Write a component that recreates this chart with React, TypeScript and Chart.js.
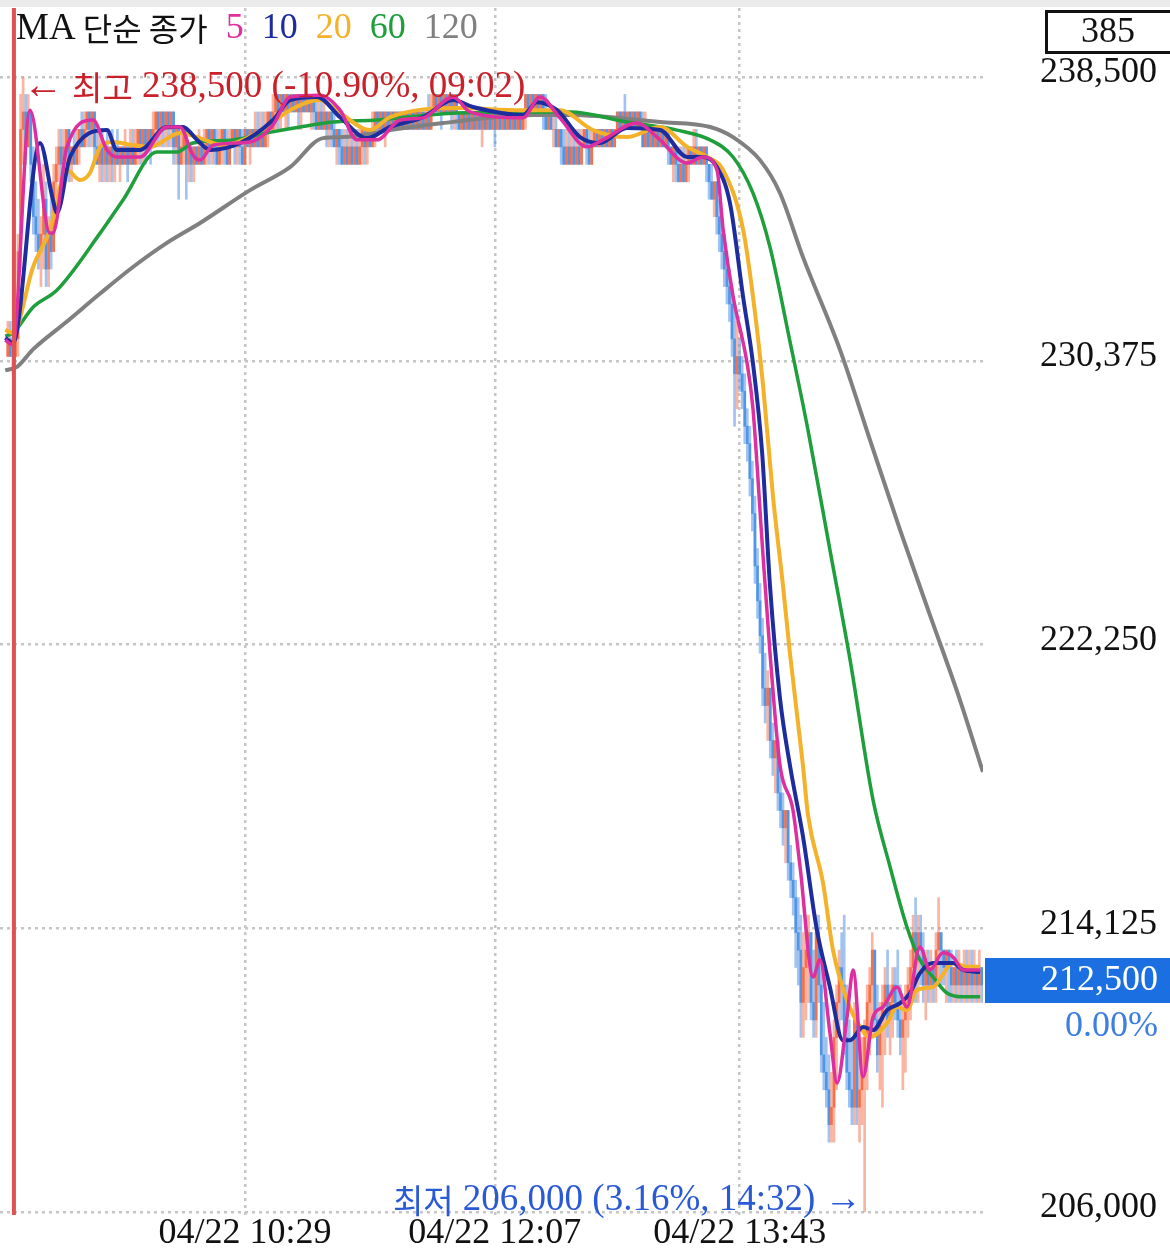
import { useEffect, useRef } from "react";
import { Chart, registerables } from "chart.js";

Chart.register(...registerables);

const CANVAS_W = 1170;
const CANVAS_H = 1254;

// ---- data (prices in thousands of won, minutes after 09:00) ----
const barStartMinute = -4;
const firstOpen = 230.5;

const barHigh = [
  231.5, 231.5, 231.0, 231.5,
  234.0, 238.0, 238.5, 238.0, 238.0, 237.5, 236.5, 235.5, 235.0, 234.5,
  236.0, 235.5, 234.5, 235.0, 236.0, 236.5, 237.0, 237.0, 237.0, 237.0,
  237.0, 236.5, 237.0, 237.0, 237.0, 237.5, 237.5, 237.5, 237.5, 237.5,
  237.5, 237.0, 237.0, 237.0, 236.5, 237.0, 236.5, 237.0, 236.5, 237.0,
  236.5, 236.5, 237.0, 236.5, 237.0, 237.0, 237.0, 237.0, 237.0, 237.0,
  237.0, 237.0, 237.0, 237.5, 237.5, 237.5, 237.5, 237.5, 237.5, 237.5,
  237.5, 237.5, 237.0, 237.0, 237.0, 237.0, 237.0, 236.5, 236.5, 236.5,
  236.5, 237.0, 236.5, 237.0, 237.0, 237.0, 237.0, 237.0, 237.0, 237.0,
  237.0, 237.0, 237.0, 237.0, 237.0, 237.0, 237.0, 237.0, 237.0, 237.0,
  237.0, 237.0, 237.0, 237.5, 237.5, 237.5, 237.5, 237.5, 237.5, 237.5,
  238.0, 238.0, 238.0, 238.0, 238.0, 238.0, 238.0, 238.0, 238.0, 238.0,
  238.0, 238.0, 238.0, 238.0, 238.0, 238.0, 238.0, 238.0, 238.0, 238.0,
  238.0, 237.5, 237.5, 237.5, 237.5, 237.0, 237.0, 237.0, 237.0, 237.0,
  237.0, 237.0, 237.0, 237.0, 237.0, 237.0, 237.0, 237.0, 237.0, 237.5,
  237.5, 237.5, 237.5, 237.5, 237.5, 237.5, 237.5, 237.5, 237.5, 237.5,
  237.5, 237.5, 237.5, 237.5, 237.5, 237.5, 237.5, 237.5, 237.5, 237.5,
  237.5, 238.0, 238.0, 238.0, 238.0, 238.0, 238.0, 238.0, 238.0, 238.0,
  238.0, 238.0, 238.0, 237.5, 237.5, 237.5, 237.5, 237.5, 237.5, 237.5,
  237.5, 237.5, 237.5, 237.5, 237.5, 237.5, 237.5, 237.5, 237.5, 237.5,
  237.5, 237.5, 237.5, 237.5, 237.5, 237.5, 237.5, 237.5, 237.5, 238.0,
  238.0, 238.0, 238.0, 238.0, 238.0, 238.0, 238.0, 238.0, 237.5, 237.5,
  237.5, 237.5, 237.0, 237.0, 237.0, 237.0, 237.0, 237.0, 237.0, 237.0,
  237.0, 237.0, 237.0, 237.0, 237.0, 237.0, 237.0, 237.0, 237.0, 237.0,
  237.0, 237.0, 237.0, 237.0, 237.0, 237.5, 237.5, 237.5, 238.0, 237.5,
  237.5, 237.5, 237.5, 237.5, 237.5, 237.5, 237.5, 237.0, 237.0, 237.0,
  237.0, 237.0, 237.0, 237.0, 237.0, 237.0, 236.5, 236.5, 236.5, 236.5,
  236.5, 236.5, 236.5, 236.5, 236.5, 237.0, 237.0, 236.5, 236.5, 236.5,
  236.5, 236.0, 236.0, 235.5, 235.5, 235.0, 234.5, 234.0, 233.5, 233.0,
  232.5, 232.0, 231.5, 231.0, 230.5, 230.0, 229.0, 228.5, 227.5, 226.5,
  225.0, 224.0, 223.0, 222.0, 221.5, 221.0, 220.0, 219.5, 219.5, 218.5,
  218.0, 217.5, 217.5, 216.5, 216.0, 215.5, 215.0, 214.5, 214.0, 214.5,
  214.5, 214.0, 213.5, 214.5, 214.5, 213.5, 212.0, 211.0, 210.5, 210.0,
  211.5, 212.5, 213.5, 214.0, 214.5, 212.5, 211.5, 211.0, 212.0, 212.0,
  210.5, 211.0, 211.5, 212.5, 213.0, 214.0, 213.5, 212.5, 212.0, 212.5,
  213.0, 213.5, 212.5, 213.0, 213.0, 213.5, 212.5, 212.0, 212.5, 213.0,
  213.5, 214.5, 215.0, 214.5, 214.5, 214.0, 213.5, 213.5, 213.5, 213.0,
  214.0, 215.0, 214.0, 213.5, 213.5, 213.5, 213.5, 213.0, 213.5, 213.5,
  213.0, 213.5, 213.5, 213.5, 213.5, 213.5, 213.0, 213.5, 213.0,
];

const barLow = [
  230.5, 230.5, 230.0, 230.5,
  230.5, 233.0, 236.0, 236.0, 236.5, 235.5, 234.0, 233.5, 233.0, 232.5,
  233.0, 232.5, 232.5, 233.0, 233.5, 235.0, 235.5, 235.5, 235.5, 236.0,
  235.5, 235.5, 236.0, 236.0, 236.0, 236.5, 236.5, 236.5, 236.5, 236.5,
  236.0, 236.0, 235.5, 235.5, 235.5, 235.5, 235.5, 235.5, 235.5, 236.0,
  235.5, 236.0, 236.0, 235.5, 236.0, 236.0, 236.0, 236.0, 236.0, 236.0,
  236.0, 236.5, 236.0, 236.5, 236.5, 236.5, 236.5, 236.5, 236.5, 236.5,
  236.5, 236.0, 236.0, 235.0, 236.0, 236.0, 235.0, 235.5, 235.5, 235.5,
  236.0, 236.0, 236.0, 236.0, 236.0, 236.0, 236.0, 236.0, 236.0, 236.0,
  236.0, 236.0, 236.0, 236.0, 236.5, 236.0, 236.0, 236.0, 236.0, 236.0,
  236.5, 236.0, 236.5, 236.5, 236.5, 236.5, 236.5, 236.5, 236.5, 237.0,
  237.0, 237.0, 237.0, 237.0, 237.5, 237.0, 237.0, 237.5, 237.5, 237.5,
  237.0, 237.0, 237.5, 237.5, 237.5, 237.0, 237.0, 237.0, 237.0, 237.0,
  237.0, 236.5, 236.5, 236.5, 236.5, 236.0, 236.0, 236.0, 236.0, 236.0,
  236.0, 236.0, 236.0, 236.0, 236.0, 236.0, 236.0, 236.0, 236.5, 236.5,
  236.5, 237.0, 237.0, 237.0, 236.5, 237.0, 237.0, 237.0, 237.0, 237.0,
  237.0, 237.0, 237.0, 237.0, 237.0, 237.0, 237.0, 237.0, 237.0, 237.0,
  237.0, 237.0, 237.0, 237.5, 237.5, 237.5, 237.0, 237.5, 237.5, 237.5,
  237.0, 237.0, 237.0, 237.0, 237.0, 237.0, 237.0, 237.0, 237.0, 237.0,
  237.0, 237.0, 236.5, 237.0, 237.0, 237.0, 237.0, 236.5, 237.0, 237.0,
  237.0, 237.0, 237.0, 237.0, 237.0, 237.0, 237.0, 237.0, 237.0, 237.0,
  237.5, 237.5, 237.5, 237.5, 237.5, 237.5, 237.0, 237.0, 237.0, 237.0,
  236.5, 236.5, 236.5, 236.0, 236.0, 236.0, 236.0, 236.0, 236.0, 236.0,
  236.0, 236.0, 236.5, 236.0, 236.0, 236.0, 236.5, 236.5, 236.5, 236.5,
  236.5, 236.5, 236.5, 236.5, 236.5, 237.0, 237.0, 237.0, 237.0, 237.0,
  237.0, 237.0, 237.0, 237.0, 237.0, 236.5, 236.5, 236.5, 236.5, 236.5,
  236.5, 236.5, 236.5, 236.5, 236.5, 236.0, 236.0, 235.5, 235.5, 235.5,
  235.5, 235.5, 235.5, 235.5, 236.0, 236.0, 236.0, 236.0, 236.0, 236.0,
  235.5, 235.0, 235.0, 234.5, 234.0, 233.5, 233.0, 232.5, 232.0, 231.5,
  230.5, 228.5, 229.0, 229.5, 229.0, 228.0, 227.5, 226.5, 225.5, 224.0,
  223.0, 222.0, 220.5, 220.0, 219.5, 219.0, 218.5, 218.0, 217.5, 217.0,
  216.5, 216.0, 215.5, 215.0, 214.5, 213.0, 212.5, 211.0, 211.0, 211.5,
  212.0, 211.5, 211.0, 211.0, 212.0, 210.0, 209.5, 209.0, 208.0, 208.0,
  208.0, 209.5, 211.0, 211.5, 210.5, 209.5, 209.0, 208.5, 208.5, 208.5,
  208.0, 208.5, 206.0, 209.5, 210.5, 211.0, 211.0, 210.0, 209.5, 209.0,
  210.5, 211.0, 210.5, 211.0, 211.5, 211.0, 210.5, 209.5, 210.0, 211.0,
  211.5, 212.0, 212.0, 212.0, 212.5, 212.0, 211.5, 212.0, 212.0, 212.0,
  212.0, 212.5, 212.5, 212.5, 212.0, 212.0, 212.0, 212.0, 212.0, 212.0,
  212.0, 212.0, 212.0, 212.0, 212.0, 212.0, 212.0, 212.0, 212.0,
];

const barClose = [
  231.0, 230.5, 230.5, 231.0,
  233.5, 237.0, 237.5, 236.5, 237.5, 236.0, 234.5, 234.0, 233.5, 234.0,
  235.0, 233.0, 234.0, 233.5, 235.5, 236.0, 236.5, 236.0, 236.5, 237.0,
  236.0, 236.5, 236.0, 236.5, 237.0, 236.5, 237.0, 237.5, 237.0, 237.5,
  236.5, 236.0, 236.5, 236.0, 236.5, 236.0, 236.5, 236.0, 236.5, 236.0,
  236.5, 236.0, 236.5, 236.0, 236.5, 236.0, 236.5, 237.0, 236.5, 237.0,
  236.5, 237.0, 236.5, 237.0, 237.5, 237.0, 237.5, 237.0, 237.5, 237.0,
  237.5, 236.5, 237.0, 236.0, 236.5, 237.0, 236.0, 236.5, 236.0, 236.5,
  236.0, 236.5, 236.0, 236.5, 237.0, 236.5, 237.0, 236.5, 236.0, 236.5,
  237.0, 236.5, 236.0, 236.5, 237.0, 236.5, 237.0, 236.5, 236.0, 237.0,
  236.5, 237.0, 236.5, 237.0, 236.5, 237.0, 236.5, 237.0, 237.5, 237.0,
  237.5, 238.0, 237.5, 238.0, 237.5, 238.0, 237.5, 238.0, 237.5, 238.0,
  237.5, 238.0, 237.5, 238.0, 237.5, 238.0, 237.5, 237.0, 237.5, 237.0,
  237.5, 237.0, 237.5, 237.0, 236.5, 237.0, 236.5, 236.0, 236.5, 236.0,
  236.5, 236.0, 236.5, 236.0, 236.5, 237.0, 236.5, 237.0, 236.5, 237.0,
  237.5, 237.0, 237.5, 237.0, 237.5, 237.0, 237.5, 237.0, 237.5, 237.0,
  237.5, 237.0, 237.5, 237.0, 237.5, 237.0, 237.5, 237.0, 237.5, 237.0,
  237.5, 237.0, 237.5, 238.0, 237.5, 238.0, 237.5, 238.0, 237.5, 238.0,
  237.5, 238.0, 237.5, 237.0, 237.5, 237.0, 237.5, 237.0, 237.5, 237.0,
  237.5, 237.0, 237.5, 237.0, 237.5, 237.0, 237.5, 237.0, 237.5, 237.0,
  237.5, 237.0, 237.5, 237.0, 237.5, 237.0, 237.5, 237.0, 237.5, 238.0,
  237.5, 238.0, 237.5, 238.0, 237.5, 238.0, 237.5, 237.0, 237.5, 237.0,
  237.0, 236.5, 237.0, 236.5, 236.0, 236.5, 236.0, 236.5, 236.0, 236.5,
  236.0, 236.5, 237.0, 236.5, 236.0, 236.5, 237.0, 236.5, 237.0, 236.5,
  237.0, 236.5, 237.0, 236.5, 237.0, 237.5, 237.0, 237.5, 237.0, 237.5,
  237.0, 237.5, 237.0, 237.5, 237.0, 236.5, 237.0, 236.5, 237.0, 236.5,
  237.0, 236.5, 237.0, 236.5, 237.0, 236.5, 236.0, 236.5, 236.0, 235.5,
  236.0, 235.5, 236.0, 236.5, 236.0, 236.5, 236.0, 236.5, 236.0, 236.5,
  236.0, 235.5, 235.0, 235.5, 234.5, 234.0, 233.5, 233.0, 232.5, 232.0,
  231.0, 230.0, 230.5, 230.0, 229.5, 228.5, 228.0, 227.0, 226.0, 224.5,
  223.5, 222.5, 221.0, 220.5, 221.0, 219.5, 219.0, 219.5, 218.0, 217.5,
  217.0, 217.5, 216.0, 215.5, 215.0, 214.0, 213.5, 212.0, 213.0, 213.5,
  214.0, 212.0, 211.5, 214.0, 212.5, 210.5, 210.0, 209.5, 208.5, 209.0,
  211.0, 212.0, 213.0, 212.5, 211.0, 210.0, 209.5, 209.0, 211.5, 209.0,
  209.5, 210.0, 211.0, 212.0, 212.5, 213.5, 211.5, 210.5, 211.5, 212.0,
  212.5, 211.5, 212.0, 212.5, 212.0, 211.5, 211.0, 211.5, 212.0, 212.5,
  213.0, 214.0, 213.5, 214.0, 213.5, 212.5, 213.0, 212.5, 213.0, 212.5,
  213.5, 214.0, 213.5, 213.0, 213.5, 213.0, 212.5, 213.0, 212.5, 213.0,
  212.5, 213.0, 212.5, 213.0, 212.5, 213.0, 212.5, 213.0, 212.5,
];

// moving averages: [minute, price]
const ma5Points = [
  [-5, 230.97], [-2, 230.83], [4.7, 237.55], [12.5, 234.03], [13.7, 234.03], [19.2, 236.5],
  [29.4, 237.27], [34.9, 236.41], [38.8, 236.21], [47.8, 236.21], [58.4, 237.07], [63.5, 237.07],
  [68.6, 236.27], [71.4, 236.12], [76.5, 236.55], [91, 236.64], [100, 237.13], [106.7, 237.93],
  [118.4, 237.98], [126.3, 237.55], [132.9, 236.7], [140.8, 236.7], [149.8, 237.27], [158.8, 237.33],
  [170.6, 237.93], [177.3, 237.5], [198, 237.33], [204.7, 237.93], [212.5, 237.33], [223.1, 236.5],
  [229.4, 236.7], [242.7, 237.18], [250.6, 236.78], [262.4, 236.04], [268.6, 236.21], [274.1, 235.84],
  [276.5, 234.15], [280.4, 232.23], [285.9, 230.31], [288.2, 229.02], [291.8, 225.19], [294.9, 222.01],
  [298.8, 218.8], [303.9, 217.51], [306.7, 215.88], [311.8, 212.73], [314.5, 213.22], [318.4, 211.13],
  [321.2, 209.69], [325.1, 211.58], [327.5, 212.93], [331.4, 209.87], [335.3, 211.58], [339.2, 211.87],
  [344.7, 212.44], [348.6, 211.87], [353.7, 213.59], [357.6, 212.93], [362.7, 213.42], [366.7, 213.3],
  [370.6, 212.93], [377.3, 212.93],
];
const ma10Points = [
  [-5, 231.03], [-2, 230.88], [8.6, 236.61], [13.7, 234.98], [15.3, 234.61], [20.4, 236.21],
  [34.9, 236.98], [38.8, 236.41], [47.8, 236.41], [58.4, 237.07], [64.7, 237.07], [70.2, 236.7],
  [75.3, 236.41], [87.1, 236.61], [100, 237.27], [106.7, 237.84], [117.3, 237.93], [126.3, 237.35],
  [136.9, 236.75], [145.9, 237.07], [158.8, 237.35], [170.6, 237.84], [178.4, 237.64], [198, 237.41],
  [203.5, 237.78], [211.4, 237.55], [220.4, 236.78], [228.2, 236.61], [238.8, 237.04], [251.8, 236.98],
  [262.4, 236.21], [268.6, 236.21], [274.1, 235.92], [279.2, 234.89], [284.3, 232.23], [288.2, 230.31],
  [291.8, 227.76], [294.9, 223.93], [298.8, 220.72], [302.7, 218.8], [307.8, 216.77], [313.3, 214.07],
  [318.4, 212.44], [323.5, 210.92], [326.3, 210.92], [331.4, 211.3], [335.3, 211.21], [340.8, 211.78],
  [345.9, 211.98], [349.8, 212.27], [353.7, 212.84], [358.8, 213.13], [366.7, 213.13], [370.6, 212.93],
  [377.3, 212.87],
];
const ma20Points = [
  [-5, 231.26], [-2, 231.17], [5.9, 233.06], [12.5, 234.12], [19.2, 235.84], [24.3, 235.55],
  [28.2, 235.75], [32.2, 236.5], [37.3, 236.64], [45.1, 236.55], [51.8, 236.5], [63.5, 236.9],
  [71.4, 236.75], [80.4, 236.55], [93.7, 236.9], [106.7, 237.55], [118.4, 237.84], [126.3, 237.47],
  [138, 236.98], [145.9, 237.35], [172.2, 237.61], [198, 237.55], [212.5, 237.55], [225.5, 236.98],
  [238.8, 236.78], [251.8, 237.07], [262.4, 236.5], [270.2, 236.21], [276.5, 235.84], [284.3, 234.15],
  [288.2, 232.23], [292.2, 229.65], [296.1, 226.47], [300, 223.93], [302.7, 222.01], [307.8, 218.8],
  [309.8, 217.37], [315.7, 215.42], [319.6, 213.5], [325.1, 212.07], [330.2, 211.3], [334.1, 211.01],
  [340.8, 211.41], [344.7, 211.87], [348.6, 211.78], [352.5, 212.36], [358.8, 212.44], [366.7, 213.13],
  [372.2, 213.02], [377.3, 213.02],
];
const ma60Points = [
  [-5, 231.08], [-2, 231.17], [5.9, 231.91], [15.3, 232.4], [32.2, 234.03], [41.2, 234.98],
  [54.5, 236.35], [62.4, 236.35], [68.6, 236.61], [84.3, 236.7], [97.6, 236.9], [110.6, 237.07],
  [123.5, 237.21], [140.8, 237.27], [172.2, 237.47], [216.5, 237.5], [238.8, 237.21], [258.4, 236.98],
  [271.4, 236.7], [280.4, 236.21], [288.2, 235.18], [294.9, 233.63], [302.7, 230.94], [309.8, 228.39],
  [318.4, 224.96], [326.3, 221.81], [335.3, 217.8], [342, 215.88], [348.6, 214.16], [353.7, 213.22],
  [358.8, 212.73], [364.3, 212.27], [370.6, 212.16], [377.3, 212.16],
];
const ma120Points = [
  [-5, 230.1], [-0.4, 230.2], [5.9, 230.7], [19.2, 231.5], [32.2, 232.3], [45.1, 233.06],
  [58.4, 233.75], [71.4, 234.32], [91, 235.26], [106.7, 235.92], [119.6, 236.75], [127.5, 236.78],
  [145.9, 236.98], [166.7, 237.18], [185.1, 237.33], [202, 237.41], [216.5, 237.41], [251.8, 237.21],
  [271.4, 237.07], [280.4, 236.78], [291, 236.12], [298.8, 235.18], [307.8, 233.35], [322.4, 230.68],
  [334.1, 228.11], [345.9, 225.53], [357.6, 223.1], [369.4, 220.66], [378.4, 218.6],
];

const maLabels = ["5", "10", "20", "60", "120"];
const yTickValues = [206000, 214125, 222250, 230375, 238500];
const xTickMinutes = [89, 187, 283];
const xTickLabels = ["04/22 10:29", "04/22 12:07", "04/22 13:43"];

const highMinute = 2;
const highPrice = 238500;
const highText = " 238,500 (-10.90%, 09:02)";
const lowMinute = 332;
const lowPrice = 206000;
const lowText = " 206,000 (3.16%, 14:32) →";
const lastPrice = 212500;
const lastPriceText = "212,500";
const changeText = "0.00%";
const countText = "385";
const sessionMarkerMinute = -1.6;

// ---- styles ----
const SERIF = "'Liberation Serif', 'Times New Roman', serif";
const CJK = "'Noto Sans CJK KR', 'Noto Sans', sans-serif";
const MA_COLORS = ["#dd2f9f", "#1e2d9e", "#f4b12a", "#1f9e3c", "#808080"];
const MA_WIDTHS = [3.5, 4, 4, 3.5, 4];
const RED_TEXT = "#c9202a";
const BLUE_TEXT = "#2a59d6";
const GRID_COLOR = "#c6c6c6";

type Run = [string, string, string];

function drawRuns(ctx: CanvasRenderingContext2D, runs: Run[], x: number, y: number, align: "left" | "right") {
  const widths = runs.map(([t, f]) => {
    ctx.font = f;
    return ctx.measureText(t).width;
  });
  const total = widths.reduce((a, b) => a + b, 0);
  let cx = align === "left" ? x : x - total;
  ctx.textAlign = "left";
  ctx.textBaseline = "middle";
  runs.forEach(([t, f, c], i) => {
    ctx.font = f;
    ctx.fillStyle = c;
    ctx.fillText(t, cx, y);
    cx += widths[i];
  });
}

const overlayPlugin = {
  id: "overlay",
  beforeDraw(chart: any) {
    const { ctx, width } = chart;
    ctx.save();
    ctx.fillStyle = "#ebebeb";
    ctx.fillRect(0, 0, width, 7);
    ctx.restore();
  },
  afterDatasetsDraw(chart: any) {
    const { ctx, chartArea, scales } = chart;
    const xs = scales.x;
    const ys = scales.y;
    ctx.save();
    const mx = xs.getPixelForValue(sessionMarkerMinute);
    ctx.fillStyle = "#e05252";
    ctx.fillRect(mx - 2, chartArea.top, 4, chartArea.bottom - chartArea.top);

    const hx = xs.getPixelForValue(highMinute);
    const hy = ys.getPixelForValue(highPrice);
    drawRuns(
      ctx,
      [
        ["←", `40px ${SERIF}`, RED_TEXT],
        [" ", `36px ${SERIF}`, RED_TEXT],
        ["최고", `33px ${CJK}`, RED_TEXT],
        [highText, `37px ${SERIF}`, RED_TEXT],
      ],
      hx,
      hy + 10,
      "left"
    );

    const lx = xs.getPixelForValue(lowMinute);
    const ly = ys.getPixelForValue(lowPrice);
    drawRuns(
      ctx,
      [
        ["최저", `33px ${CJK}`, BLUE_TEXT],
        [lowText, `37px ${SERIF}`, BLUE_TEXT],
      ],
      lx - 3,
      ly - 12,
      "right"
    );
    ctx.restore();
  },
  afterDraw(chart: any) {
    const { ctx, chartArea, scales, width } = chart;
    const ys = scales.y;
    ctx.save();
    // legend
    const legendRuns: Run[] = [
      ["MA", `37px ${SERIF}`, "#111"],
      [" 단순 종가", `32px ${CJK}`, "#111"],
    ];
    maLabels.forEach((l, i) => legendRuns.push(["  " + l, `36px ${SERIF}`, MA_COLORS[i]]));
    drawRuns(ctx, legendRuns, 16, 29, "left");

    // count box
    ctx.strokeStyle = "#111";
    ctx.lineWidth = 3;
    ctx.strokeRect(1046.5, 11.5, 140, 41);
    ctx.fillStyle = "#111";
    ctx.font = `36px ${SERIF}`;
    ctx.textAlign = "center";
    ctx.textBaseline = "middle";
    ctx.fillText(countText, 1108, 33);

    // last price box
    const py = ys.getPixelForValue(lastPrice) - 5;
    ctx.fillStyle = "#1b6fe0";
    ctx.fillRect(chartArea.right + 2, py - 22, width - chartArea.right - 2, 45);
    ctx.fillStyle = "#ffffff";
    ctx.textAlign = "right";
    ctx.fillText(lastPriceText, 1158, py + 1);
    ctx.fillStyle = "#3d7fe0";
    ctx.fillText(changeText, 1158, py + 47);
    ctx.restore();
  },
};

export default function App() {
  const ref = useRef<HTMLCanvasElement | null>(null);

  useEffect(() => {
    document.body.style.margin = "0";
    const canvas = ref.current;
    if (!canvas) return;

    const opens = barClose.map((c, i) => (i === 0 ? firstOpen : barClose[i - 1]));
    const isUp = barClose.map((c, i) => c >= opens[i]);
    const minutes = barClose.map((_, i) => barStartMinute + i);

    const wickData = minutes.map((m, i) => ({ x: m, y: [barLow[i] * 1000, barHigh[i] * 1000] }));
    const bodyData = minutes.map((m, i) => ({ x: m, y: [opens[i] * 1000, barClose[i] * 1000] }));
    const wickColors = isUp.map((u) => (u ? "rgba(246, 130, 100, 0.6)" : "rgba(100, 155, 230, 0.6)"));
    const bodyColors = isUp.map((u) => (u ? "rgba(247, 104, 62, 0.88)" : "rgba(70, 145, 230, 0.88)"));

    const maSets = [ma5Points, ma10Points, ma20Points, ma60Points, ma120Points];
    const lineDatasets = maSets.map((pts, i) => ({
      type: "line" as const,
      label: "MA" + maLabels[i],
      data: pts.map(([m, p]) => ({ x: m, y: p * 1000 })),
      borderColor: MA_COLORS[i],
      borderWidth: MA_WIDTHS[i],
      pointRadius: 0,
      cubicInterpolationMode: "monotone" as const,
      fill: false,
      order: 1 + i,
    }));

    const chart = new Chart(canvas, {
      type: "bar",
      data: {
        datasets: [
          {
            type: "bar",
            label: "wick",
            data: wickData as any,
            backgroundColor: wickColors,
            grouped: false,
            barThickness: 2,
            maxBarThickness: 2,
            borderWidth: 0,
            order: 20,
          },
          {
            type: "bar",
            label: "body",
            data: bodyData as any,
            backgroundColor: bodyColors,
            grouped: false,
            barThickness: 2,
            maxBarThickness: 2,
            borderWidth: 0,
            order: 19,
          },
          ...lineDatasets,
        ] as any,
      },
      options: {
        animation: false,
        responsive: false,
        maintainAspectRatio: false,
        events: [],
        layout: { padding: { top: 8, left: 0, right: 0, bottom: 0 } },
        plugins: { legend: { display: false }, tooltip: { enabled: false } },
        scales: {
          x: {
            type: "linear",
            min: -7.06,
            max: 378.43,
            offset: false,
            grid: { offset: false, color: GRID_COLOR, lineWidth: 2.5, drawTicks: false },
            border: { display: false, dash: [3, 4] },
            ticks: {
              autoSkip: false,
              maxRotation: 0,
              padding: 1,
              color: "#111",
              font: { family: SERIF, size: 36, lineHeight: 1 },
              callback: (v: any) => {
                const k = xTickMinutes.indexOf(Number(v));
                return k >= 0 ? xTickLabels[k] : "";
              },
            },
            afterBuildTicks: (s: any) => {
              s.ticks = xTickMinutes.map((v) => ({ value: v }));
            },
            afterFit: (s: any) => {
              s.height = 39;
              s.paddingLeft = 0;
              s.paddingRight = 0;
            },
          },
          y: {
            type: "linear",
            position: "right",
            min: 205914,
            max: 240476,
            beginAtZero: false,
            grid: { color: GRID_COLOR, lineWidth: 2.5, drawTicks: false },
            border: { display: false, dash: [3, 4] },
            ticks: {
              padding: 57,
              crossAlign: "near",
              labelOffset: -4,
              color: "#111",
              font: { family: SERIF, size: 36 },
              callback: (v: any) => Number(v).toLocaleString("en-US"),
            },
            afterBuildTicks: (s: any) => {
              s.ticks = yTickValues.map((v) => ({ value: v }));
            },
            afterFit: (s: any) => {
              s.width = 187;
              s.paddingTop = 0;
              s.paddingBottom = 0;
            },
          },
        },
      } as any,
      plugins: [overlayPlugin],
    });

    return () => chart.destroy();
  }, []);

  return <canvas ref={ref} width={CANVAS_W} height={CANVAS_H} style={{ display: "block", width: CANVAS_W, height: CANVAS_H }} />;
}
